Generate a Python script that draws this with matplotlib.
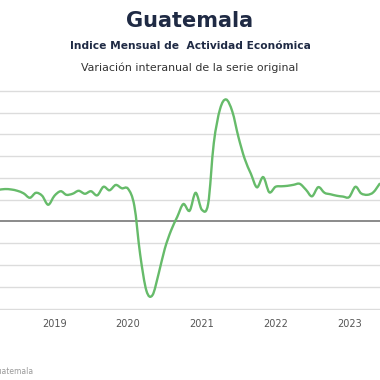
import matplotlib
matplotlib.use("Agg")
import matplotlib.pyplot as plt
import matplotlib.dates as mdates
from matplotlib.path import Path
from matplotlib.patches import PathPatch
import numpy as np
import pandas as pd

# IMAE Guatemala, variacion interanual (%), mensual desde abr-2018
start_month = "2018-04"
imae = [3.64, 3.72, 3.67, 3.52, 3.23, 2.72, 3.29, 2.95, 1.92,          # 2018
        2.95, 3.47, 3.06, 3.18, 3.52, 3.18, 3.47, 3.00, 3.98, 3.58, 4.19, 3.81,  # 2019
        3.75, 1.80, -3.80, -7.95, -8.45, -5.94, -3.13, -1.04, 0.54, 2.00, 1.23, 3.29,  # 2020
        1.34, 2.03, 9.00, 12.90, 14.00, 12.60, 9.70, 7.20, 5.47, 3.92, 5.09, 3.35,  # 2021
        3.98, 4.04, 4.09, 4.21, 4.32, 3.64, 2.89, 3.94, 3.29, 3.12, 2.95, 2.86,  # 2022
        2.80, 3.98, 3.23, 3.06, 3.35, 4.32]                                     # 2023
year_ticks = ["2019", "2020", "2021", "2022", "2023"]

months = pd.date_range(start_month, periods=len(imae), freq="MS")


def smooth_path(x, y, t=1/6):
    # catmull-rom style bezier through the points (like a "smoothed line")
    pts = np.column_stack([x, y])
    verts = [pts[0]]
    codes = [Path.MOVETO]
    n = len(pts)
    for i in range(n - 1):
        p0 = pts[max(i - 1, 0)]
        p1 = pts[i]
        p2 = pts[i + 1]
        p3 = pts[min(i + 2, n - 1)]
        c1 = p1 + (p2 - p0) * t
        c2 = p2 - (p3 - p1) * t
        verts += [c1, c2, p2]
        codes += [Path.CURVE4] * 3
    return Path(verts, codes)


navy = "#1f2a44"
fig = plt.figure(figsize=(3.8, 3.8), dpi=100)
ax = fig.add_axes([0.0, 0.1832, 1.0, 0.5826])

xs = mdates.date2num(months)
ax.add_patch(PathPatch(smooth_path(xs, np.array(imae)), fill=False,
                       edgecolor="#66bb6a", lw=1.7, capstyle="round", zorder=3))
ax.axhline(0, color="#8a8a8a", lw=1.4, zorder=2)

ax.set_ylim(-10.2, 15.2)
ax.set_yticks([-10, -7.5, -5, -2.5, 2.5, 5, 7.5, 10, 12.5, 15])
ax.yaxis.grid(True, color="#dcdcdc", lw=1.0)
ax.set_xlim(pd.Timestamp("2018-04-06"), pd.Timestamp("2023-06-03"))
ax.set_xticks([pd.Timestamp(y + "-01-01") for y in year_ticks])
ax.set_xticklabels(year_ticks)
ax.tick_params(axis="x", length=0, labelsize=7, colors="#555555", pad=6)
ax.tick_params(axis="y", length=0, labelleft=False)
for s in ax.spines.values():
    s.set_visible(False)

fig.text(0.5, 0.945, "Guatemala", ha="center", va="center",
         fontsize=15, fontweight="bold", color=navy)
fig.text(0.5, 0.878, "Indice Mensual de  Actividad Económica", ha="center", va="center",
         fontsize=7.7, fontweight="bold", color=navy)
fig.text(0.5, 0.821, "Variación interanual de la serie original", ha="center", va="center",
         fontsize=7.9, color="#333333")
fig.text(0.088, 0.022, "Fuente: Banco de Guatemala", ha="right", va="center",
         fontsize=5.5, color="#999999")

fig.savefig("out.png", dpi=100)
